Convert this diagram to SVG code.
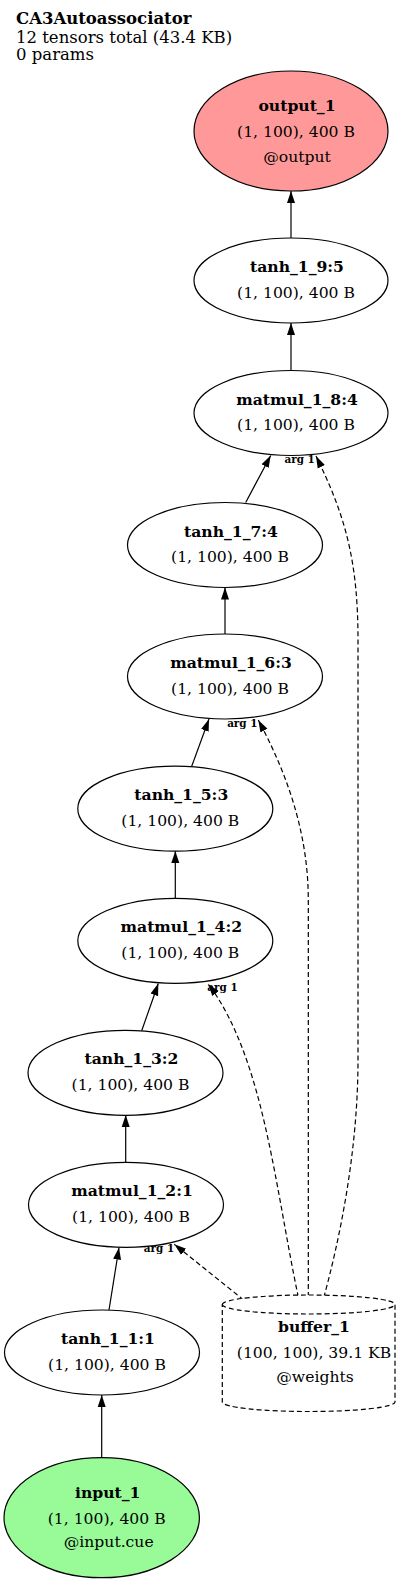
<svg xmlns="http://www.w3.org/2000/svg" width="400" height="1585" viewBox="0 0 400 1585">
<style>
text{font-family:"DejaVu Serif","Liberation Serif",serif;font-size:15.6px;fill:#000}
.b{font-weight:bold}
.c{text-anchor:middle}
.h{font-size:16.5px}
.lbl{font-size:10.4px;font-weight:bold;text-anchor:middle}
.n{fill:#fff;stroke:#000;stroke-width:1.2}
.e{fill:none;stroke:#000;stroke-width:1.2;marker-end:url(#ah)}
.d{stroke-dasharray:5,3}
</style>
<defs>
<marker id="ah" markerUnits="userSpaceOnUse" markerWidth="14" markerHeight="10" refX="12" refY="4.5" orient="auto">
<path d="M0,0.5 L12,4.5 L0,8.5 Z" fill="#000"/>
</marker>
</defs>
<rect width="400" height="1585" fill="#fff"/>
<g id="header">
<text x="16" y="24" class="b h">CA3Autoassociator</text>
<text x="16" y="42.5" class="h">12 tensors total (43.4 KB)</text>
<text x="16" y="60" class="h">0 params</text>
</g>
<g id="edges">
<path class="e" d="M291,238 L291,191"/>
<path class="e" d="M291,370.5 L291,323"/>
<path class="e" d="M245.7,502.5 L270.7,455.5"/>
<path class="e" d="M225,634 L225,587.5"/>
<path class="e" d="M191.7,766.3 L209,719"/>
<path class="e" d="M175.3,898.3 L175.3,851"/>
<path class="e" d="M141.7,1030.7 L158.3,983.5"/>
<path class="e" d="M125.7,1162 L125.7,1115"/>
<path class="e" d="M109,1310 L119,1247.5"/>
<path class="e" d="M101.7,1457.7 L101.7,1395"/>
<path class="e d" d="M321.7,1305 C340,1240 358,1150 358,1060 L358,640 C358,560 345,515 316,456"/>
<path class="e d" d="M308.3,1305 L308.3,900 C308.3,830 285,770 258.3,720"/>
<path class="e d" d="M300,1305 C275,1190 265,1060 208.3,984"/>
<path class="e d" d="M250,1305 L174.3,1244.3"/>
<text x="299.7" y="463.3" class="lbl">arg 1</text>
<text x="242.3" y="726.7" class="lbl">arg 1</text>
<text x="222.5" y="991.3" class="lbl">arg 1</text>
<text x="159" y="1252.3" class="lbl">arg 1</text>
</g>
<g id="output_1">
<ellipse cx="291" cy="131" rx="97" ry="60" class="n" style="fill:#ff9999"/>
<text x="297" y="111" class="b c">output_1</text>
<text x="296" y="137" class="c">(1, 100), 400 B</text>
<text x="297" y="161.5" class="c">@output</text>
</g>
<g id="tanh_1_9_5">
<ellipse cx="291" cy="280.5" rx="97" ry="42.5" class="n"/>
<text x="297" y="272" class="b c">tanh_1_9:5</text>
<text x="296" y="297.5" class="c">(1, 100), 400 B</text>
</g>
<g id="matmul_1_8_4">
<ellipse cx="291" cy="413" rx="97" ry="42.5" class="n"/>
<text x="297" y="404.5" class="b c">matmul_1_8:4</text>
<text x="296" y="430" class="c">(1, 100), 400 B</text>
</g>
<g id="tanh_1_7_4">
<ellipse cx="225" cy="545" rx="97.5" ry="42.5" class="n"/>
<text x="231" y="536.5" class="b c">tanh_1_7:4</text>
<text x="230" y="562" class="c">(1, 100), 400 B</text>
</g>
<g id="matmul_1_6_3">
<ellipse cx="225" cy="676.5" rx="97.5" ry="42.5" class="n"/>
<text x="231" y="668" class="b c">matmul_1_6:3</text>
<text x="230" y="693.5" class="c">(1, 100), 400 B</text>
</g>
<g id="tanh_1_5_3">
<ellipse cx="175.3" cy="808.7" rx="97.5" ry="42.5" class="n"/>
<text x="181.3" y="800.2" class="b c">tanh_1_5:3</text>
<text x="180.3" y="825.7" class="c">(1, 100), 400 B</text>
</g>
<g id="matmul_1_4_2">
<ellipse cx="175.3" cy="940.8" rx="97.5" ry="42.5" class="n"/>
<text x="181.3" y="932.3" class="b c">matmul_1_4:2</text>
<text x="180.3" y="957.8" class="c">(1, 100), 400 B</text>
</g>
<g id="tanh_1_3_2">
<ellipse cx="125.5" cy="1072.8" rx="97.5" ry="42.5" class="n"/>
<text x="131.5" y="1064.3" class="b c">tanh_1_3:2</text>
<text x="130.5" y="1089.8" class="c">(1, 100), 400 B</text>
</g>
<g id="matmul_1_2_1">
<ellipse cx="126" cy="1204.8" rx="97.5" ry="42.5" class="n"/>
<text x="132" y="1196.3" class="b c">matmul_1_2:1</text>
<text x="131" y="1221.8" class="c">(1, 100), 400 B</text>
</g>
<g id="tanh_1_1_1">
<ellipse cx="102" cy="1352.5" rx="97.5" ry="42.5" class="n"/>
<text x="108" y="1344" class="b c">tanh_1_1:1</text>
<text x="107" y="1369.5" class="c">(1, 100), 400 B</text>
</g>
<g id="input_1">
<ellipse cx="101.7" cy="1517.7" rx="97.7" ry="60" class="n" style="fill:#98fb98"/>
<text x="107.7" y="1498" class="b c">input_1</text>
<text x="106.7" y="1523.5" class="c">(1, 100), 400 B</text>
<text x="108.7" y="1547" class="c">@input.cue</text>
</g>
<g id="buffer_1">
<path class="n d" d="M222.3,1304.5 A86.3,9.5 0 0 1 395,1304.5 L395,1402 A86.3,9.5 0 0 1 222.3,1402 Z"/>
<path class="n d" style="fill:none" d="M222.3,1304.5 A86.3,9.5 0 0 0 395,1304.5"/>
<text x="314" y="1332" class="b c">buffer_1</text>
<text x="314" y="1358.3" class="c">(100, 100), 39.1 KB</text>
<text x="315" y="1382" class="c">@weights</text>
</g>
</svg>
